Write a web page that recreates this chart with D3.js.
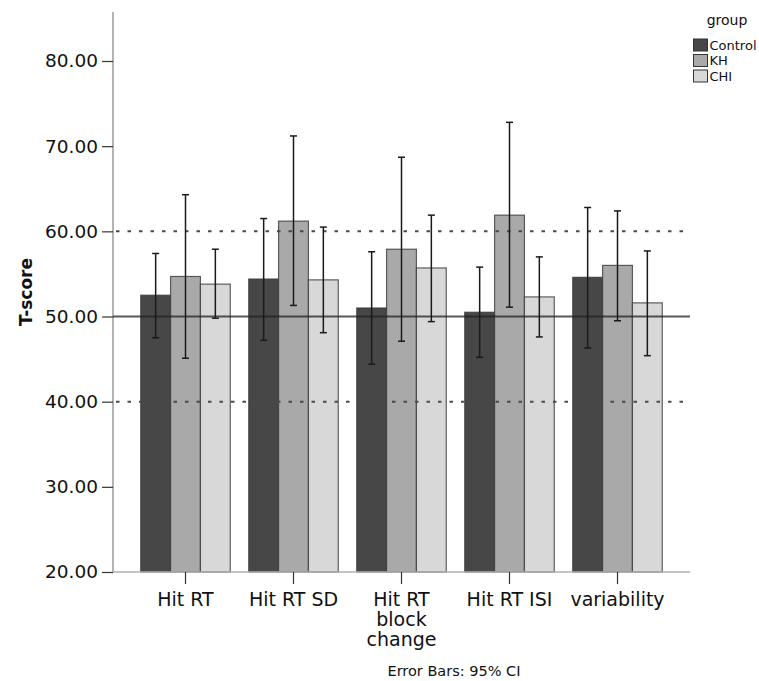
<!DOCTYPE html>
<html>
<head>
<meta charset="utf-8">
<script src="https://cdn.jsdelivr.net/npm/d3@7"></script>
<style>
  html, body { margin: 0; padding: 0; background: #fff; }
  svg { display: block; font-family: "DejaVu Sans", sans-serif; }
</style>
</head>
<body>
<svg id="chart" width="759" height="681"></svg>
<script>
// Measures and groups
const categories = [["Hit RT"], ["Hit RT SD"], ["Hit RT", "block", "change"], ["Hit RT ISI"], ["variability"]];
const groups = ["Control", "KH", "CHI"];

// Mean T-scores per group
const controlMean = [52.5, 54.4, 51.0, 50.5, 54.6];
const khMean      = [54.7, 61.2, 57.9, 61.9, 56.0];
const chiMean     = [53.8, 54.3, 55.7, 52.3, 51.6];

// 95% confidence interval bounds per group
const controlLow  = [47.5, 47.2, 44.4, 45.2, 46.3];
const controlHigh = [57.4, 61.5, 57.6, 55.8, 62.8];
const khLow       = [45.1, 51.3, 47.1, 51.1, 49.5];
const khHigh      = [64.3, 71.2, 68.7, 72.8, 62.4];
const chiLow      = [49.8, 48.1, 49.4, 47.6, 45.4];
const chiHigh     = [57.9, 60.5, 61.9, 57.0, 57.7];

const yTicks = [20, 30, 40, 50, 60, 70, 80];
const refSolid = [50];
const refDotted = [40, 60];

const fills = { Control: "#474747", KH: "#a9a9a9", CHI: "#d8d8d8" };

const series = [
  { key: "Control", mean: controlMean, low: controlLow, high: controlHigh },
  { key: "KH", mean: khMean, low: khLow, high: khHigh },
  { key: "CHI", mean: chiMean, low: chiLow, high: chiHigh }
];

const svg = d3.select("#chart");

const plotLeft = 113, plotRight = 690, plotTop = 12;

const x0 = d3.scaleBand()
  .domain(d3.range(categories.length))
  .range([131.5, 671.5])
  .paddingInner(0.171)
  .paddingOuter(0.0855);

const x1 = d3.scaleBand()
  .domain(groups)
  .range([0, x0.bandwidth()]);

const y = d3.scaleLinear().domain([20, 80]).range([572, 61]);

// Y axis
svg.append("line")
  .attr("x1", plotLeft).attr("x2", plotLeft)
  .attr("y1", plotTop).attr("y2", y(20))
  .attr("stroke", "#9a9a9a").attr("stroke-width", 1.5);

const yAxis = svg.append("g")
  .attr("transform", `translate(${plotLeft},0)`)
  .call(d3.axisLeft(y).tickValues(yTicks).tickFormat(d3.format(".2f")).tickSize(11).tickPadding(4));
yAxis.select(".domain").remove();
yAxis.selectAll(".tick line").attr("stroke", "#333").attr("stroke-width", 1.2);
yAxis.selectAll(".tick text")
  .attr("fill", "#111")
  .style("font-size", "18.5px")
  .style("font-family", "DejaVu Sans, sans-serif");

svg.append("text")
  .attr("transform", `translate(32,${(plotTop + y(20)) / 2}) rotate(-90)`)
  .attr("text-anchor", "middle")
  .style("font-size", "17px")
  .style("font-weight", "bold")
  .attr("fill", "#111")
  .text("T-score");

// Bars
const bars = [];
series.forEach(s => s.mean.forEach((m, i) => bars.push({ key: s.key, i, mean: m, low: s.low[i], high: s.high[i] })));

svg.append("g").selectAll("rect")
  .data(bars)
  .join("rect")
  .attr("x", d => x0(d.i) + x1(d.key))
  .attr("width", x1.bandwidth())
  .attr("y", d => y(d.mean))
  .attr("height", d => y(20) - y(d.mean))
  .attr("fill", d => fills[d.key])
  .attr("stroke", "#3a3a3a")
  .attr("stroke-opacity", 0.8)
  .attr("stroke-width", 1.2);

// X axis baseline and ticks
svg.append("line")
  .attr("x1", plotLeft).attr("x2", plotRight)
  .attr("y1", y(20)).attr("y2", y(20))
  .attr("stroke", "#b0b0b0").attr("stroke-width", 1.5);

const xg = svg.append("g");
categories.forEach((lines, i) => {
  const cx = x0(i) + x0.bandwidth() / 2;
  xg.append("line")
    .attr("x1", cx).attr("x2", cx)
    .attr("y1", y(20)).attr("y2", y(20) + 12)
    .attr("stroke", "#333").attr("stroke-width", 1.2);
  const t = xg.append("text")
    .attr("x", cx).attr("y", 606)
    .attr("text-anchor", "middle")
    .style("font-size", "19px")
    .attr("fill", "#111");
  lines.forEach((ln, k) => {
    t.append("tspan").attr("x", cx).attr("dy", k === 0 ? 0 : 20).text(ln);
  });
});

// Reference lines drawn over the bars
svg.append("g").selectAll("line")
  .data(refDotted)
  .join("line")
  .attr("x1", plotLeft + 3).attr("x2", plotRight)
  .attr("y1", d => y(d)).attr("y2", d => y(d))
  .attr("stroke", "#4a4a4a").attr("stroke-width", 2)
  .attr("stroke-dasharray", "3.5,8");

svg.append("g").selectAll("line")
  .data(refSolid)
  .join("line")
  .attr("x1", plotLeft).attr("x2", plotRight)
  .attr("y1", d => y(d)).attr("y2", d => y(d))
  .attr("stroke", "#222").attr("stroke-opacity", 0.75).attr("stroke-width", 2);

// Error bars (95% CI)
const eb = svg.append("g").selectAll("g")
  .data(bars)
  .join("g")
  .attr("transform", d => `translate(${x0(d.i) + x1(d.key) + x1.bandwidth() / 2},0)`);
eb.append("line")
  .attr("y1", d => y(d.low)).attr("y2", d => y(d.high))
  .attr("stroke", "#1a1a1a").attr("stroke-width", 1.5);
eb.append("line")
  .attr("x1", -3.5).attr("x2", 3.5)
  .attr("y1", d => y(d.high)).attr("y2", d => y(d.high))
  .attr("stroke", "#1a1a1a").attr("stroke-width", 1.5);
eb.append("line")
  .attr("x1", -3.5).attr("x2", 3.5)
  .attr("y1", d => y(d.low)).attr("y2", d => y(d.low))
  .attr("stroke", "#1a1a1a").attr("stroke-width", 1.5);

// Legend
const legend = svg.append("g");
legend.append("text")
  .attr("x", 727).attr("y", 25)
  .attr("text-anchor", "middle")
  .style("font-size", "14px")
  .attr("fill", "#111")
  .text("group");
groups.forEach((g, k) => {
  const ly = 39 + k * 15.5;
  legend.append("rect")
    .attr("x", 693.5).attr("y", ly)
    .attr("width", 14).attr("height", 12)
    .attr("fill", fills[g])
    .attr("stroke", "#333").attr("stroke-width", 1);
  legend.append("text")
    .attr("x", 709.5).attr("y", ly + 10.5)
    .style("font-size", "13px")
    .attr("fill", "#111")
    .text(g);
});

// Caption
svg.append("text")
  .attr("x", 454).attr("y", 676)
  .attr("text-anchor", "middle")
  .style("font-size", "14.5px")
  .attr("fill", "#111")
  .text("Error Bars: 95% CI");
</script>
</body>
</html>
